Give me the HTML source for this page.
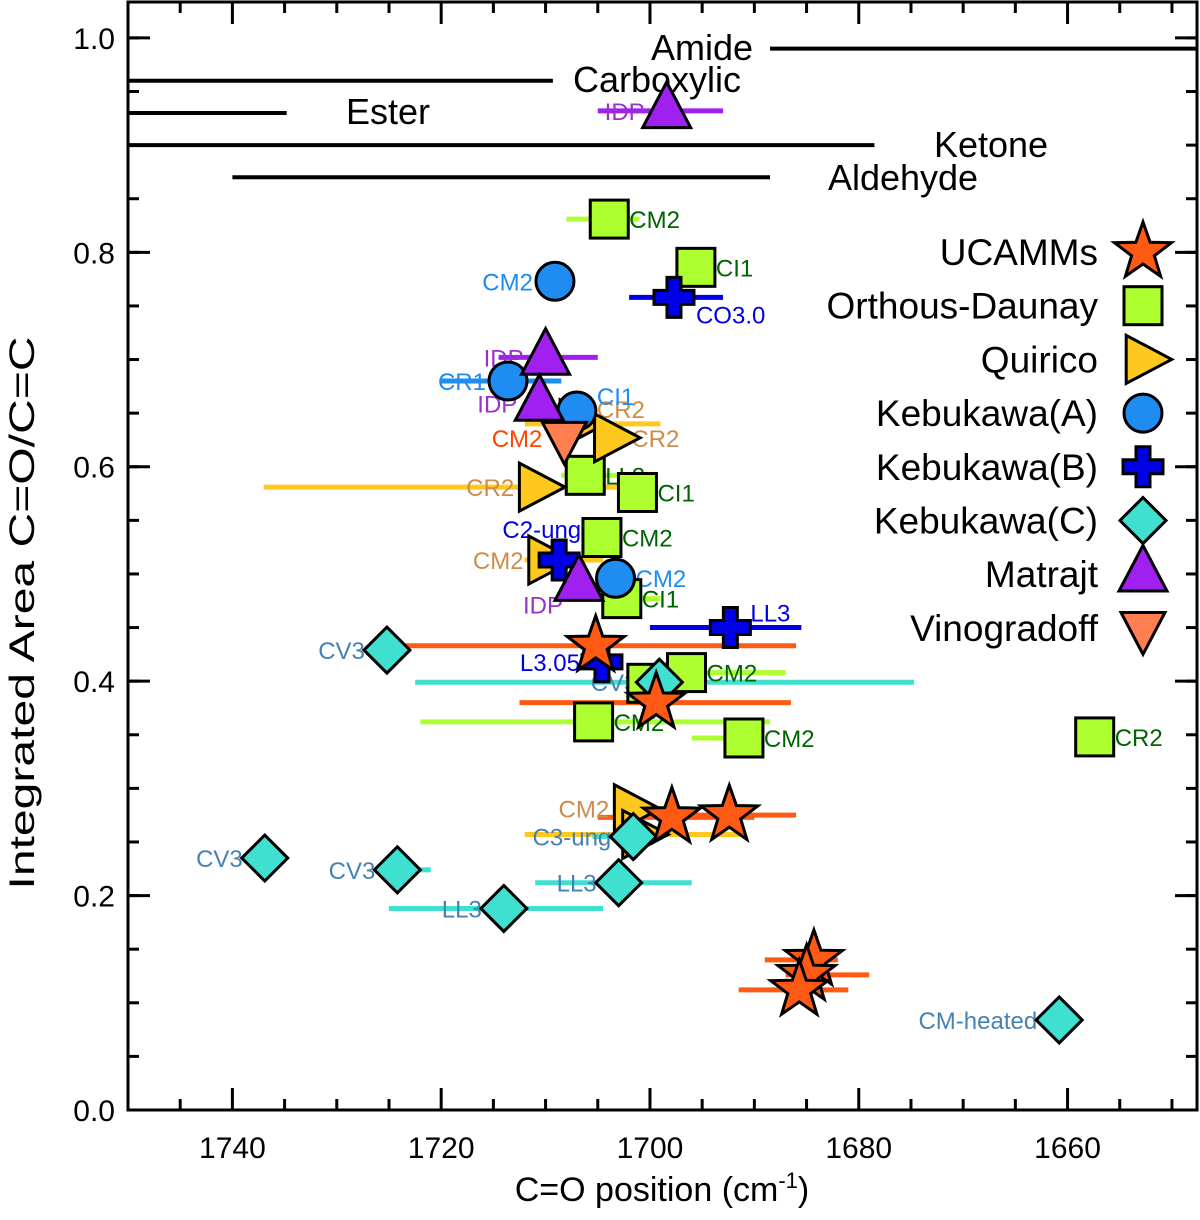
<!DOCTYPE html>
<html><head><meta charset="utf-8"><style>
body{margin:0;background:#fff}
svg text{font-family:"Liberation Sans",sans-serif}
</style></head><body>
<svg id="chart" width="1200" height="1215" viewBox="0 0 1200 1215" xmlns="http://www.w3.org/2000/svg"></svg>
<script>
// categories & data
const seriesNames=["UCAMMs","Orthous-Daunay","Quirico","Kebukawa(A)","Kebukawa(B)","Kebukawa(C)","Matrajt","Vinogradoff"];
const seriesShapes=["star","square","tri-right","circle","cross","diamond","tri-up","tri-down"];
const seriesFill=["#ff5a14","#adff2f","#ffc81e","#1e8cf0","#0000e6","#40e0d0","#a020f0","#ff7f50"];
const seriesLabelColor=["#ff4500","#006400","#cd8c4a","#1e8cf0","#0000e6","#4682b4","#9932cc","#ff4500"];
// [series, x, y, xerrLow, xerrHigh, label, labelSide]
const points=[
[1,1703.9,0.831,1708,1701,"CM2","r"],
[1,1695.6,0.786,null,null,"CI1","r"],
[1,1706.2,0.592,1708.5,1703,"LL3","r"],
[1,1701.2,0.576,null,null,"CI1","r"],
[1,1704.6,0.534,null,null,"CM2","r"],
[1,1702.7,0.477,1704,1699,"CI1","r"],
[1,1700.3,0.398,null,null,"",""],
[1,1696.5,0.408,1701,1687,"CM2","r"],
[1,1705.4,0.362,1722,1688.5,"CM2","r"],
[1,1691.0,0.347,1696,1690,"CM2","r"],
[1,1657.4,0.348,null,null,"CR2","r"],
[2,1707.0,0.640,1712,1699,"CR2","ur"],
[2,1703.7,0.627,null,null,"CR2","r"],
[2,1710.9,0.581,1737,1700,"CR2","l"],
[2,1710.0,0.513,1712,1704.5,"CM2","l"],
[2,1701.8,0.281,null,null,"CM2","l"],
[2,1701.0,0.257,1712,1691,"",""],
[3,1709.1,0.773,null,null,"CM2","l"],
[3,1713.6,0.680,1720,1708.5,"CR1","l"],
[3,1707.0,0.652,null,null,"CI1","ur"],
[3,1703.3,0.496,null,null,"CM2","r"],
[4,1697.7,0.758,1702,1693,"CO3.0","dr"],
[4,1708.7,0.513,null,null,"C2-ung","ul"],
[4,1704.6,0.418,null,null,"L3.05","l"],
[4,1692.3,0.450,1700,1685.5,"LL3","ur"],
[5,1725.2,0.429,null,1723,"CV3","l"],
[5,1699.1,0.399,1722.5,1674.7,"CV3","l"],
[5,1701.6,0.255,1705.5,1699,"C3-ung","l"],
[5,1736.9,0.235,null,null,"CV3","l"],
[5,1724.2,0.224,null,1721,"CV3","l"],
[5,1703.0,0.212,1711,1696,"LL3","l"],
[5,1714.0,0.188,1725,1704.5,"LL3","l"],
[5,1660.8,0.084,null,null,"CM-heated","l"],
[6,1698.4,0.932,1705,1693,"IDP","l"],
[6,1710.0,0.702,1714.5,1705,"IDP","l"],
[6,1710.6,0.659,null,null,"IDP","l"],
[6,1706.8,0.491,null,null,"IDP","dl"],
[7,1708.2,0.627,null,null,"CM2","l"],
[0,1705.2,0.433,1724.3,1686.0,"",""],
[0,1699.4,0.380,1712.5,1686.5,"",""],
[0,1697.9,0.273,1705,1690,"",""],
[0,1692.4,0.275,1700,1686,"",""],
[0,1684.3,0.140,1689,1682,"",""],
[0,1685.0,0.126,1687,1679,"",""],
[0,1685.7,0.112,1691.5,1681,"",""]
];
const refNames=["Amide","Carboxylic","Ester","Ketone","Aldehyde"];
const refY=[0.99,0.96,0.93,0.90,0.87];
const refX1=[1688.5,1750,1750,1750,1740];
const refX2=[1647.6,1709.3,1734.8,1678.5,1688.5];
const xTickLabels=[1740,1720,1700,1680,1660];
const yTickLabels=["0.0","0.2","0.4","0.6","0.8","1.0"];
const yTickValues=[0,0.2,0.4,0.6,0.8,1.0];

const svg=document.getElementById('chart');
const NS="http://www.w3.org/2000/svg";
const L=128,R=1197,T=2,B=1110;
const xmin=1750,xmax=1647.6,ymin=0,ymax=1.0335;
const sx=v=>L+(xmin-v)/(xmin-xmax)*(R-L);
const sy=v=>B-(v-ymin)/(ymax-ymin)*(B-T);
function mk(tag,attrs,parent){const e=document.createElementNS(NS,tag);for(const k in attrs)e.setAttribute(k,attrs[k]);(parent||svg).appendChild(e);return e;}
function txt(s,x,y,size,fill,anchor,parent){const t=mk('text',{x:x,y:y,'font-size':size,fill:fill,'text-anchor':anchor||'start'},parent);t.textContent=s;return t;}

// reference lines
const refG=mk('g',{});


const refLabelX=[702,657,388,991,903];
const refLabelY=[60,92,124,157,190];
for(let i=0;i<refNames.length;i++){
  const l=mk('line',{x1:sx(refX1[i]),x2:sx(refX2[i]),y1:sy(refY[i]),y2:sy(refY[i]),stroke:'#000','stroke-width':4},refG);
  
  
  const t=txt(refNames[i],refLabelX[i],refLabelY[i],36,'#000','middle',refG);
  
  
}

function marker(shape,cx,cy,fill,parent,s){
  s=s||1;const st={fill:fill,stroke:'#000','stroke-width':3};let e;
  if(shape==='square'){const h=19*s;e=mk('rect',Object.assign({x:cx-h,y:cy-h,width:2*h,height:2*h},st),parent);}
  else if(shape==='circle'){e=mk('circle',Object.assign({cx:cx,cy:cy,r:19*s},st),parent);}
  else if(shape==='diamond'){const h=23*s;e=mk('polygon',Object.assign({points:`${cx},${cy-h} ${cx+h},${cy} ${cx},${cy+h} ${cx-h},${cy}`},st),parent);}
  else if(shape==='tri-up'){const h=24*s;e=mk('polygon',Object.assign({points:`${cx},${cy-h*1.2} ${cx+h},${cy+h*0.7} ${cx-h},${cy+h*0.7}`},st),parent);}
  else if(shape==='tri-down'){const h=22*s;e=mk('polygon',Object.assign({points:`${cx},${cy+h*1.2} ${cx+h},${cy-h*0.7} ${cx-h},${cy-h*0.7}`},st),parent);}
  else if(shape==='tri-right'){const h=24*s;e=mk('polygon',Object.assign({points:`${cx+h*1.2},${cy} ${cx-h*0.7},${cy-h} ${cx-h*0.7},${cy+h}`},st),parent);}
  else if(shape==='cross'){const a=20*s,b=7*s;e=mk('polygon',Object.assign({points:`${cx-b},${cy-a} ${cx+b},${cy-a} ${cx+b},${cy-b} ${cx+a},${cy-b} ${cx+a},${cy+b} ${cx+b},${cy+b} ${cx+b},${cy+a} ${cx-b},${cy+a} ${cx-b},${cy+b} ${cx-a},${cy+b} ${cx-a},${cy-b} ${cx-b},${cy-b}`},st),parent);}
  else if(shape==='star'){let p=[];const ro=30*s,ri=12*s;for(let k=0;k<10;k++){const r=k%2?ri:ro;const a=-Math.PI/2+k*Math.PI/5;p.push((cx+r*Math.cos(a)).toFixed(1)+','+(cy+r*Math.sin(a)).toFixed(1));}e=mk('polygon',Object.assign({points:p.join(' ')},st),parent);}
  return e;
}

// error bars first
const ebG=mk('g',{});


points.forEach(p=>{
  if(p[3]===null&&p[4]===null)return;
  const lo=p[3]===null?p[1]:p[3],hi=p[4]===null?p[1]:p[4];
  const l=mk('line',{x1:sx(lo),x2:sx(hi),y1:sy(p[2]),y2:sy(p[2]),stroke:seriesFill[p[0]],'stroke-width':5},ebG);
  
  
});
// labels
const lbG=mk('g',{});


points.forEach(p=>{
  if(!p[5])return;const cx=sx(p[1]),cy=sy(p[2]);let x=cx,y=cy+9,a='start';
  if(p[6]==='r'){x=cx+20;}else if(p[6]==='l'){x=cx-22;a='end';}
  else if(p[6]==='ur'){x=cx+20;y=cy-6;}else if(p[6]==='ul'){x=cx+22;y=cy-22;a='end';}
  else if(p[6]==='dr'){x=cx+22;y=cy+26;}else if(p[6]==='dl'){x=cx-16;y=cy+30;a='end';}
  const t=txt(p[5],x,y,24,seriesLabelColor[p[0]],a,lbG);
  
  
});
// markers
const mkG=mk('g',{});


points.forEach(p=>{
  const m=marker(seriesShapes[p[0]],sx(p[1]),sy(p[2]),seriesFill[p[0]],mkG);
  
  
});

// legend
const lgG=mk('g',{});


seriesNames.forEach((n,i)=>{
  const y=252+i*53.7;
  const t=txt(n,1098,y+13,37,'#000','end',lgG);
  
  
  const m=marker(seriesShapes[i],1143,y,seriesFill[i],lgG,1);
  
  
});

// axes frame
const ax=mk('g',{});


const fr=mk('rect',{x:L,y:T,width:R-L,height:B-T,fill:'none',stroke:'#000','stroke-width':3},ax);


for(let v=1745;v>=1650;v-=5){
  const major=(v%20===0);const len=major?22:11;const x=sx(v);
  mk('line',{x1:x,x2:x,y1:B,y2:B-len,stroke:'#000','stroke-width':3},ax);
  mk('line',{x1:x,x2:x,y1:T,y2:T+len,stroke:'#000','stroke-width':3},ax);
}
xTickLabels.forEach(v=>{const t=txt(String(v),sx(v),1158,30,'#000','middle',ax);});
for(let k=1;k<=20;k++){const v=k*0.05;const y=sy(v);mk('line',{x1:L,x2:L+11,y1:y,y2:y,stroke:'#000','stroke-width':3},ax);mk('line',{x1:R,x2:R-11,y1:y,y2:y,stroke:'#000','stroke-width':3},ax);}
yTickValues.forEach((v,i)=>{const y=sy(v);mk('line',{x1:L,x2:L+22,y1:y,y2:y,stroke:'#000','stroke-width':3},ax);mk('line',{x1:R,x2:R-22,y1:y,y2:y,stroke:'#000','stroke-width':3},ax);
  const t=txt(yTickLabels[i],115,y+11,30,'#000','end',ax);});
const xt=mk('text',{x:662,y:1201,'font-size':34,'text-anchor':'middle',fill:'#000'},ax);
xt.innerHTML='C=O position (cm<tspan dy="-13" font-size="22">-1</tspan><tspan dy="13">)</tspan>';


const yt=mk('text',{x:0,y:0,'font-size':35,fill:'#000','text-anchor':'middle',textLength:553,lengthAdjust:'spacingAndGlyphs'},ax);
yt.textContent='Integrated Area C=O/C=C';
yt.setAttribute('transform','translate(34,613) rotate(-90)');


</script>
</body></html>
